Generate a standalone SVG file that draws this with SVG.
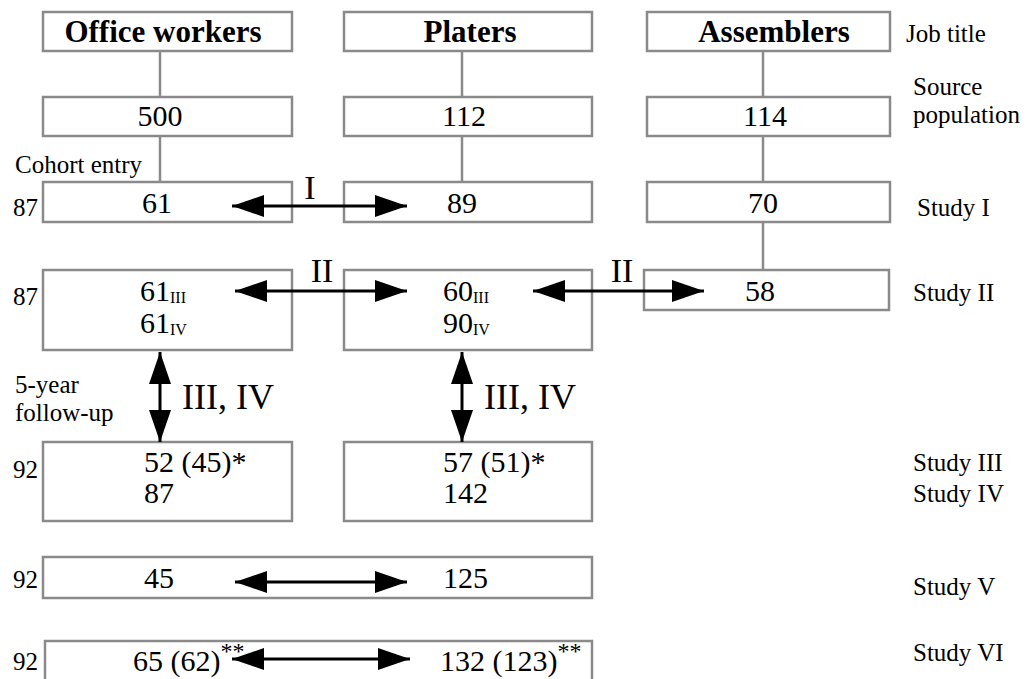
<svg xmlns="http://www.w3.org/2000/svg" width="1030" height="679" viewBox="0 0 1030 679">
<defs>
<marker id="ah" markerUnits="userSpaceOnUse" markerWidth="33" markerHeight="24" viewBox="0 0 33 24" refX="32" refY="12" orient="auto-start-reverse">
<path d="M0,1 L32,12 L0,23 Z" fill="#000"/>
</marker>
</defs>
<style>
.box{fill:#fff;stroke:#8a8a8a;stroke-width:2.5}
.link{fill:none;stroke:#8a8a8a;stroke-width:2.5}
.arr{fill:none;stroke:#000;stroke-width:3;marker-start:url(#ah);marker-end:url(#ah)}
text{font-family:"Liberation Serif","Times New Roman",serif;fill:#000}
.t{font-size:31px;font-weight:bold;text-anchor:middle}
.n{font-size:30px}
.c{text-anchor:middle}
.s{font-size:25px}
.lab{font-size:34px}
.sub{font-size:16px}
.sup{font-size:24px}
</style>
<rect width="1030" height="679" fill="#fff"/>
<g id="office-title"><rect class="box" x="43" y="12" width="249" height="39"/><text class="t" x="163" y="42">Office workers</text></g>
<g id="platers-title"><rect class="box" x="344" y="12" width="248" height="39"/><text class="t" x="470" y="42">Platers</text></g>
<g id="assemblers-title"><rect class="box" x="647" y="12" width="243" height="39"/><text class="t" x="774" y="42">Assemblers</text></g>
<g id="office-source"><rect class="box" x="43" y="97" width="249" height="39"/><text class="n c" x="160" y="126">500</text></g>
<g id="platers-source"><rect class="box" x="344" y="97" width="248" height="39"/><text class="n c" x="464" y="126">112</text></g>
<g id="assemblers-source"><rect class="box" x="647" y="97" width="243" height="39"/><text class="n c" x="765" y="126">114</text></g>
<g id="office-study1"><rect class="box" x="43" y="182" width="249" height="40"/><text class="n c" x="157" y="213">61</text></g>
<g id="platers-study1"><rect class="box" x="344" y="182" width="248" height="40"/><text class="n c" x="462" y="213">89</text></g>
<g id="assemblers-study1"><rect class="box" x="647" y="182" width="243" height="40"/><text class="n c" x="763" y="213">70</text></g>
<g id="office-study2"><rect class="box" x="43" y="270" width="249" height="80"/>
<text class="n" x="140" y="301">61<tspan class="sub" dy="2">III</tspan></text>
<text class="n" x="140" y="333">61<tspan class="sub" dy="2">IV</tspan></text></g>
<g id="platers-study2"><rect class="box" x="344" y="270" width="248" height="80"/>
<text class="n" x="443" y="301">60<tspan class="sub" dy="2">III</tspan></text>
<text class="n" x="443" y="333">90<tspan class="sub" dy="2">IV</tspan></text></g>
<g id="assemblers-study2"><rect class="box" x="644" y="270" width="245" height="40"/><text class="n c" x="760" y="301">58</text></g>
<g id="office-study34"><rect class="box" x="43" y="442" width="249" height="79"/>
<text class="n" x="144" y="472">52 (45)*</text><text class="n" x="144" y="503">87</text></g>
<g id="platers-study34"><rect class="box" x="344" y="442" width="248" height="79"/>
<text class="n" x="443" y="472">57 (51)*</text><text class="n" x="443" y="503">142</text></g>
<g id="study5"><rect class="box" x="43" y="557" width="549" height="41"/>
<text class="n" x="144" y="588">45</text><text class="n" x="443" y="588">125</text></g>
<g id="study6"><rect class="box" x="45" y="641" width="547" height="60"/>
<text class="n" x="133" y="671">65 (62)<tspan class="sup" dy="-12">**</tspan></text>
<text class="n" x="440" y="671">132 (123)<tspan class="sup" dy="-12">**</tspan></text></g>
<g id="labels">
<text class="s" x="15" y="173">Cohort entry</text>
<text class="s" x="13" y="216">87</text>
<text class="s" x="13" y="305">87</text>
<text class="s" x="15" y="393">5-year</text>
<text class="s" x="15" y="421">follow-up</text>
<text class="s" x="13" y="478">92</text>
<text class="s" x="13" y="588">92</text>
<text class="s" x="13" y="670">92</text>
<text class="s" x="906" y="42">Job title</text>
<text class="s" x="913" y="95">Source</text>
<text class="s" x="913" y="123">population</text>
<text class="s" x="917" y="216">Study I</text>
<text class="s" x="913" y="301">Study II</text>
<text class="s" x="913" y="471">Study III</text>
<text class="s" x="913" y="502">Study IV</text>
<text class="s" x="913" y="595">Study V</text>
<text class="s" x="913" y="661">Study VI</text>
</g>
<g id="connectors">
<path class="link" d="M160,51 V97 M160,136 V182 M462,51 V97 M462,136 V182 M763,51 V97 M763,136 V182 M763,222 V270"/>
<path class="arr" d="M232,206 H407"/>
<path class="arr" d="M235,291 H407"/>
<path class="arr" d="M533,291 H704"/>
<path class="arr" d="M160,352 V442"/>
<path class="arr" d="M462,352 V442"/>
<path class="arr" d="M235,582 H407"/>
<path class="arr" d="M232,659 H410"/>
<text class="lab" x="310" y="199" text-anchor="middle">I</text>
<text class="lab" x="322" y="282" text-anchor="middle">II</text>
<text class="lab" x="622" y="282" text-anchor="middle">II</text>
<text x="182" y="409" font-size="36">III, IV</text>
<text x="484" y="409" font-size="36">III, IV</text>
</g>
</svg>
